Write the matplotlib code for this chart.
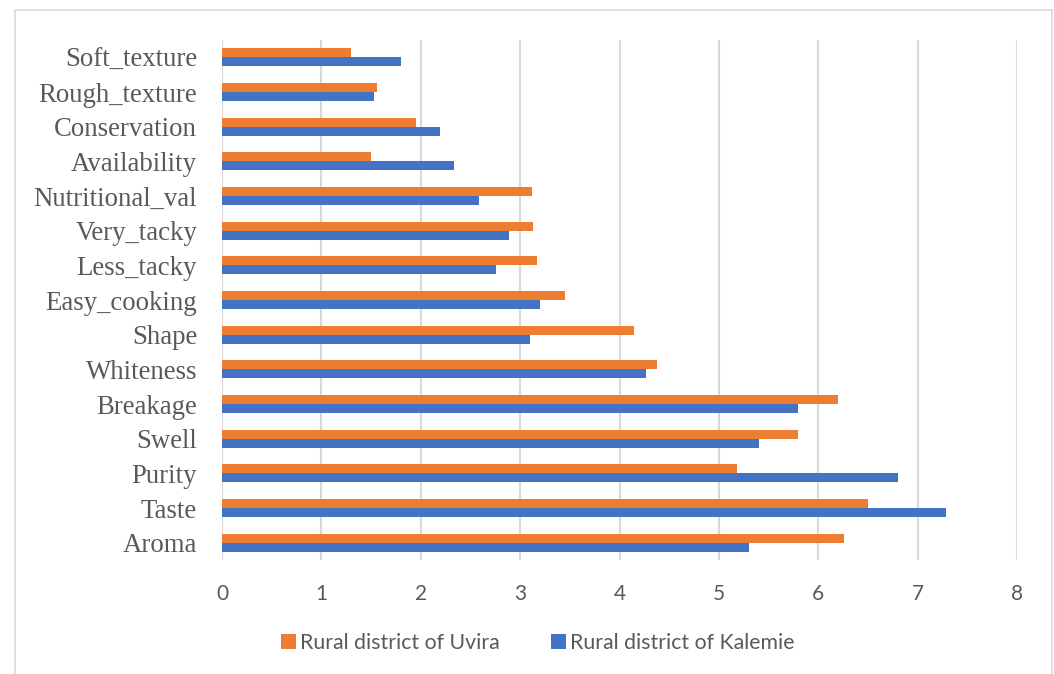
import matplotlib
matplotlib.use("Agg")
import matplotlib.pyplot as plt
import numpy as np
from matplotlib.patches import Rectangle

categories = ["Aroma", "Taste", "Purity", "Swell", "Breakage", "Whiteness", "Shape",
              "Easy_cooking", "Less_tacky", "Very_tacky", "Nutritional_val",
              "Availability", "Conservation", "Rough_texture", "Soft_texture"]
uvira = [6.26, 6.50, 5.18, 5.80, 6.20, 4.38, 4.15, 3.45, 3.17, 3.13, 3.12, 1.50, 1.95, 1.56, 1.30]
kalemie = [5.30, 7.29, 6.80, 5.40, 5.80, 4.27, 3.10, 3.20, 2.76, 2.89, 2.59, 2.33, 2.19, 1.53, 1.80]
xticks = [0, 1, 2, 3, 4, 5, 6, 7, 8]
series_names = ["Rural district of Uvira", "Rural district of Kalemie"]

ORANGE = "#ED7D31"
BLUE = "#4472C4"
GRID = "#D9D9D9"
TXT = "#595959"
SANS = "Lato"

fig = plt.figure(figsize=(10.54, 6.74), dpi=100)
# outer chart border
fig.patches.append(Rectangle((15/1054, -0.01), (1052-15)/1054, 1 - 10/674 + 0.01,
                             transform=fig.transFigure, fill=False,
                             edgecolor=GRID, linewidth=1.2))

ax = fig.add_axes([222/1054, 1 - 560/674, (1017-222)/1054, 520/674])
y = np.arange(len(categories))
h = 0.26
ax.barh(y + h/2, uvira, height=h, color=ORANGE, label=series_names[0], zorder=3)
ax.barh(y - h/2, kalemie, height=h, color=BLUE, label=series_names[1], zorder=3)

ax.set_xlim(0, 8)
ax.set_ylim(-0.5, len(categories) - 0.5)
ax.set_xticks(xticks)
ax.set_xticklabels([str(t) for t in xticks], fontfamily=SANS,
                   fontsize=15, color=TXT)
ax.set_yticks(y)
ax.set_yticklabels(categories, fontfamily="Liberation Serif", fontsize=19.3, color=TXT)
ax.tick_params(axis="both", length=0)
ax.tick_params(axis="x", pad=17)
ax.tick_params(axis="y", pad=18)
ax.grid(axis="x", color=GRID, linewidth=1.5, zorder=0)
for s in ax.spines.values():
    s.set_visible(False)

handles, labels = ax.get_legend_handles_labels()
leg = fig.legend(handles, labels, loc="center", bbox_to_anchor=(538/1054, 1 - 643/674),
                 ncol=2, frameon=False, handlelength=0.7, handleheight=0.7,
                 handletextpad=0.2, columnspacing=2.4,
                 prop={"family": SANS, "size": 15.3})
for t in leg.get_texts():
    t.set_color(TXT)

fig.savefig("out.png", dpi=100)
